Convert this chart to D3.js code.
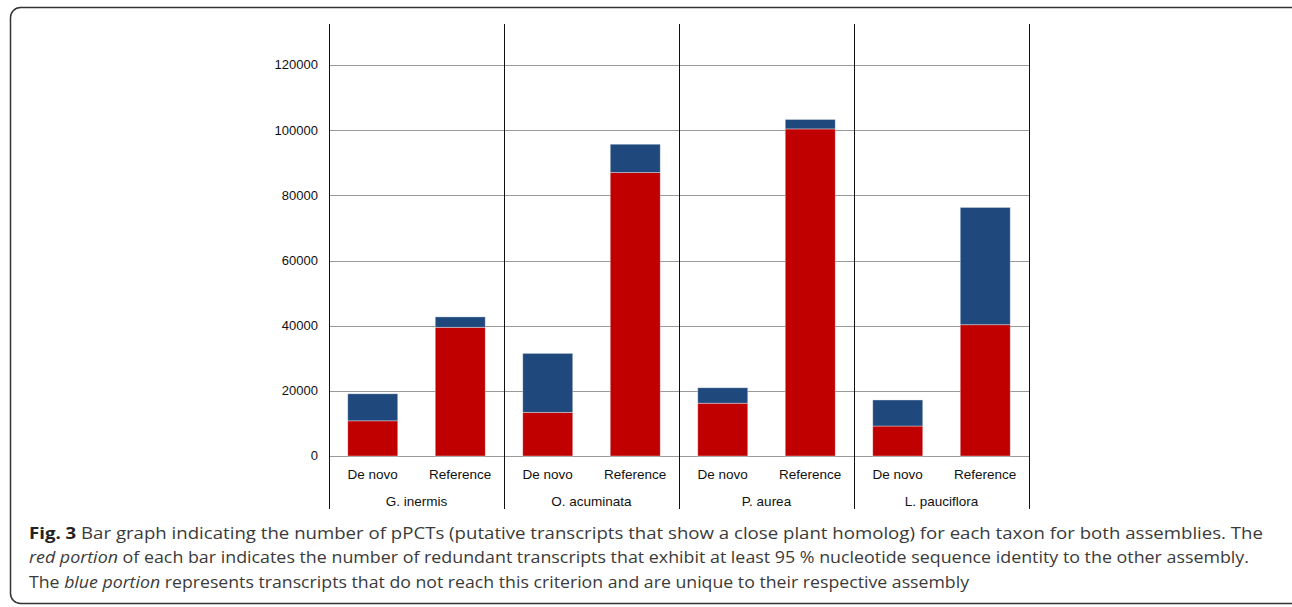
<!DOCTYPE html>
<html lang="en">

<head>
  <meta charset="utf-8">
  <title>Fig. 3 pPCTs</title>
  <style>
    body {
      margin: 0;
      background: #fff;
    }

    .axis text {
      font: 13px "Liberation Sans", Arial, sans-serif;
      fill: #111;
    }

    .axis path {
      display: none;
    }

    .grid line {
      stroke: #9a9a9a;
      stroke-width: 1;
      shape-rendering: crispEdges;
    }

    .sep {
      stroke: #111;
      stroke-width: 1;
      shape-rendering: crispEdges;
    }

    .lbl {
      font: 13.5px "Liberation Sans", Arial, sans-serif;
      fill: #111;
    }

    .caption {
      font-family: "Open Sans", sans-serif;
      font-size: 15.5px;
      fill: #3a3a3a;
    }
  </style>
</head>

<body>
  <div id="chart"></div>
</body>
<script src="https://d3js.org/d3.v7.min.js"></script>

<script>

  // data
  let taxa = ["G. inermis", "O. acuminata", "P. aurea", "L. pauciflora"];
  let assemblies = ["De novo", "Reference"];
  // red: redundant transcripts (>=95% identity to the other assembly)
  let redundant = [
    [10800, 39500],
    [13400, 87000],
    [16200, 100400],
    [9200, 40300]
  ];
  // blue: unique transcripts
  let unique = [
    [8300, 3200],
    [18100, 8700],
    [4750, 2900],
    [8000, 36000]
  ];
  let yTicks = [0, 20000, 40000, 60000, 80000, 100000, 120000];

  let W = 1292, H = 607;

  let svg = d3.select("#chart")
    .append("svg")
    .attr("width", W)
    .attr("height", H);

  // rounded frame around the figure
  svg.append("rect")
    .attr("x", 10.5)
    .attr("y", 7.5)
    .attr("width", 1300)
    .attr("height", 596)
    .attr("rx", 10)
    .attr("fill", "none")
    .attr("stroke", "#333")
    .attr("stroke-width", 1.5);

  let x0 = d3.scaleBand().domain(taxa).range([329, 1029]).padding(0);
  let x1 = d3.scaleBand().domain(assemblies).range([0, x0.bandwidth()])
    .paddingInner(0.4286).paddingOuter(0.2143);
  let y = d3.scaleLinear().domain([0, 132600]).range([456, 24]);

  // gridlines + tick labels
  let yAxis = svg.append("g")
    .attr("class", "axis grid")
    .attr("transform", "translate(" + 329 + ",0)")
    .call(d3.axisLeft(y).tickValues(yTicks).tickSize(-700).tickPadding(11).tickFormat(d3.format("d")));

  yAxis.selectAll("text").attr("dy", "0.3em");

  // stacked rows
  let rows = [];
  taxa.forEach((t, i) => {
    assemblies.forEach((a, j) => {
      rows.push({ taxon: t, asm: a, red: redundant[i][j], blue: unique[i][j] });
    });
  });

  let bars = svg.append("g").selectAll("g")
    .data(rows)
    .enter()
    .append("g")
    .attr("transform", (d) => { return "translate(" + (x0(d.taxon) + x1(d.asm)) + ",0)" });

  bars.append("rect")
    .attr("width", x1.bandwidth())
    .attr("y", (d) => { return y(d.red) })
    .attr("height", (d) => { return y(0) - y(d.red) })
    .attr("fill", "#c00000")
    .attr("stroke", "rgba(255,255,255,0.45)")
    .attr("stroke-width", 0.8);

  bars.append("rect")
    .attr("width", x1.bandwidth())
    .attr("y", (d) => { return y(d.red + d.blue) })
    .attr("height", (d) => { return y(d.red) - y(d.red + d.blue) })
    .attr("fill", "#1f497d")
    .attr("stroke", "rgba(255,255,255,0.45)")
    .attr("stroke-width", 0.8);

  // group separators (first one doubles as the y axis line)
  let sepX = taxa.map((t) => { return x0(t) }).concat([x0.range()[1]]);
  svg.append("g").selectAll("line")
    .data(sepX)
    .enter()
    .append("line")
    .attr("class", "sep")
    .attr("x1", (d) => { return d + 0.5 })
    .attr("x2", (d) => { return d + 0.5 })
    .attr("y1", y.range()[1])
    .attr("y2", 509);

  // assembly labels
  svg.append("g").selectAll("text")
    .data(rows)
    .enter()
    .append("text")
    .attr("class", "lbl")
    .attr("text-anchor", "middle")
    .attr("x", (d) => { return x0(d.taxon) + x1(d.asm) + x1.bandwidth() / 2 })
    .attr("y", 479)
    .text((d) => { return d.asm });

  // taxon labels
  svg.append("g").selectAll("text")
    .data(taxa)
    .enter()
    .append("text")
    .attr("class", "lbl")
    .attr("text-anchor", "middle")
    .attr("x", (d) => { return x0(d) + x0.bandwidth() / 2 })
    .attr("y", 506)
    .text((d) => { return d });

  // caption
  let capLines = [
    [["b", "Fig. 3"], ["n", " Bar graph indicating the number of pPCTs (putative transcripts that show a close plant homolog) for each taxon for both assemblies. The"]],
    [["i", "red portion"], ["n", " of each bar indicates the number of redundant transcripts that exhibit at least 95 % nucleotide sequence identity to the other assembly."]],
    [["n", "The "], ["i", "blue portion"], ["n", " represents transcripts that do not reach this criterion and are unique to their respective assembly"]]
  ];
  // width each caption line takes in the figure
  let capWidths = [1234, 1220, 940];

  let capText = svg.append("g").selectAll("text")
    .data(capLines)
    .enter()
    .append("text")
    .attr("class", "caption")
    .attr("x", 29)
    .attr("y", (d, i) => { return 539 + i * 24.3 })
    .attr("textLength", (d, i) => { return capWidths[i] })
    .attr("lengthAdjust", "spacingAndGlyphs");

  capText.selectAll("tspan")
    .data((d) => { return d })
    .enter()
    .append("tspan")
    .attr("font-weight", (d) => { return d[0] == "b" ? "bold" : null })
    .attr("fill", (d) => { return d[0] == "b" ? "#222" : null })
    .attr("font-style", (d) => { return d[0] == "i" ? "italic" : null })
    .text((d) => { return d[1] });

</script>

</html>
